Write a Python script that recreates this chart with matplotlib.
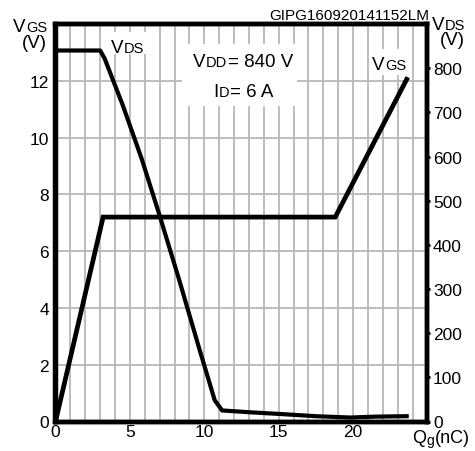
import matplotlib
matplotlib.use('Agg')
import matplotlib.pyplot as plt
from matplotlib.patches import Rectangle

plt.rcParams['font.family'] = ['Liberation Sans', 'DejaVu Sans']

W, H = 475, 452

# ---- data ----
qg_vgs = [0, 3.2, 18.8, 23.6]
vgs = [0, 7.2, 7.2, 12.05]

qg_vds = [0, 3.0, 3.3, 4.5, 5.8, 7.0, 8.3, 9.6, 10.7, 11.2, 13.0, 15.1, 17.5, 19.8, 21.5, 23.6]
vds = [840, 840, 822, 718, 594, 466, 322, 172, 48, 25, 21, 17, 12, 9, 11, 12]

x_ticks = [0, 5, 10, 15, 20]
x_grid = list(range(1, 25))
vgs_ticks = [0, 2, 4, 6, 8, 10, 12]
vds_ticks = [0, 100, 200, 300, 400, 500, 600, 700, 800]

fig = plt.figure(figsize=(W / 100, H / 100), dpi=100)
L, R, T, B = 55.5, 427.5, 25, 422.5
ax = fig.add_axes([L / W, 1 - B / H, (R - L) / W, (B - T) / H])
ax.set_xlim(0, 25)
ax.set_ylim(0, 14)
ax.set_xticks(x_ticks)
ax.set_xticks(x_grid, minor=True)
ax.set_yticks(vgs_ticks)
gcol = '#b8b8b8'
ax.grid(which='both', axis='x', color=gcol, lw=1.3)
ax.grid(which='major', axis='y', color=gcol, lw=1.3)
ax.set_axisbelow(True)
ax.tick_params(axis='x', which='both', length=0, pad=2, labelsize=12.5)
ax.tick_params(axis='y', length=0, pad=4.5, labelsize=12.5)

ax.plot(qg_vgs, vgs, color='black', lw=3.4, solid_joinstyle='miter', zorder=3)

ax2 = ax.twinx()
ax2.set_ylim(0, 900)
ax2.set_yticks(vds_ticks)
ax2.tick_params(axis='y', length=2.5, width=2, direction='out', pad=1.5, labelsize=12.5)
ax2.plot(qg_vds, vds, color='black', lw=3.0, zorder=3)

for a in (ax, ax2):
    for s in a.spines.values():
        s.set_linewidth(3.2)
        s.set_zorder(5)

renderer = fig.canvas.get_renderer()


def rich(parts, x, y, ha='left'):
    """parts: (text, size, dy_px); x, y in pixels from top-left (baseline)."""
    items = []
    total = 0
    for p in parts:
        s, sz = p[0], p[1]
        dy = p[2] if len(p) > 2 else 0
        t = fig.text(0, 0, s, fontsize=sz, va='baseline', ha='left', zorder=4)
        w = t.get_window_extent(renderer).width
        items.append((t, w, dy))
        total += w
    if ha == 'right':
        cx = x - total
    elif ha == 'center':
        cx = x - total / 2
    else:
        cx = x
    for t, w, dy in items:
        t.set_position((cx / W, 1 - (y + dy) / H))
        cx += w + 0.5


def white_box(x0, y0, x1, y1):
    fig.patches.append(Rectangle((x0 / W, 1 - y1 / H), (x1 - x0) / W, (y1 - y0) / H,
                                 transform=fig.transFigure, facecolor='white',
                                 edgecolor='none', zorder=2))


BIG, SMALL = 13.5, 10.5

# axis titles
rich([('V', BIG), ('GS', SMALL)], 47, 32, ha='right')
rich([('(V)', BIG)], 47, 48, ha='right')
rich([('V', BIG), ('DS', SMALL)], 432, 30)
rich([('(V)', BIG)], 440, 45)
rich([('GIPG160920141152LM', 11)], 429, 20, ha='right')
rich([('Q', 13), ('g', 10, 2), ('(nC)', 13)], 412, 443)

# curve annotations
white_box(105, 33, 150, 55)
rich([('V', BIG), ('DS', SMALL)], 111, 53)
white_box(182, 45, 297, 107)
rich([('V', BIG), ('DD', SMALL), ('= 840 V', BIG)], 193, 67)
rich([('I', BIG), ('D', SMALL), ('= 6 A', BIG)], 213, 97)
white_box(369, 50, 410, 76)
rich([('V', BIG), ('GS', SMALL)], 372, 70)

fig.savefig('out.png', dpi=100)
